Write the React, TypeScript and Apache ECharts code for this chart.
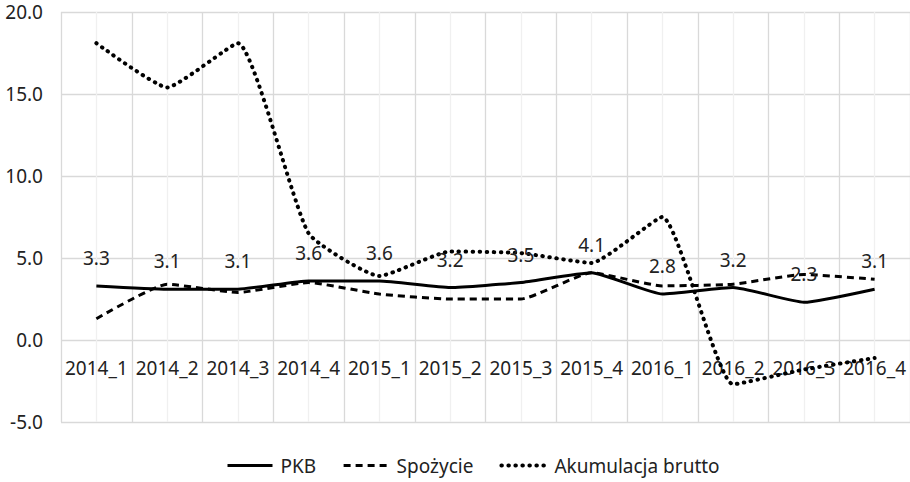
import React, { useEffect, useRef } from "react";
import * as echarts from "echarts";

const categories = [
  "2014_1", "2014_2", "2014_3", "2014_4",
  "2015_1", "2015_2", "2015_3", "2015_4",
  "2016_1", "2016_2", "2016_3", "2016_4",
];
const pkb = [3.3, 3.1, 3.1, 3.6, 3.6, 3.2, 3.5, 4.1, 2.8, 3.2, 2.3, 3.1];
const spozycie = [1.3, 3.4, 2.9, 3.5, 2.8, 2.5, 2.5, 4.1, 3.3, 3.4, 4.0, 3.7];
const akumulacja = [18.1, 15.4, 18.1, 6.5, 3.9, 5.4, 5.3, 4.7, 7.5, -2.7, -1.8, -1.1];
const seriesNames = ["PKB", "Spożycie", "Akumulacja brutto"];
const yMin = -5;
const yMax = 20;
const yStep = 5;

const FONT = "Noto Sans";
const TEXT = "#222222";

const solidStyle = { color: "#000000", width: 3, type: "solid" as const };
const dashStyle = { color: "#000000", width: 3, type: [7, 5] };
const dotStyle = { color: "#000000", width: 4, type: [0.5, 6.5], cap: "round" as const };

export default function App() {
  const ref = useRef<HTMLDivElement>(null);
  useEffect(() => {
    if (!ref.current) return;
    const chart = echarts.init(ref.current, undefined, { renderer: "svg" });
    const n = categories.length;
    const gridTop = 12;
    const gridHeight = 410;
    const zeroOffset = -(gridHeight * (0 - yMin)) / (yMax - yMin);
    const styles = [solidStyle, dashStyle, dotStyle];
    chart.setOption({
      animation: false,
      backgroundColor: "#ffffff",
      textStyle: { fontFamily: FONT },
      grid: { left: 61, top: gridTop, right: -9, height: gridHeight, containLabel: false },
      legend: {
        bottom: 2,
        left: 221,
        itemWidth: 45,
        itemHeight: 10,
        itemGap: 26,
        textStyle: { fontFamily: FONT, fontSize: 19, color: TEXT, padding: [0, 0, 0, 3] },
        data: seriesNames.map((name, i) => ({
          name,
          itemStyle: { opacity: 0 },
          lineStyle: { ...styles[i] },
        })),
      },
      xAxis: [
        {
          type: "category",
          data: categories,
          boundaryGap: true,
          position: "bottom",
          offset: zeroOffset,
          axisLine: { show: false, onZero: false },
          axisTick: { show: false },
          splitLine: { show: false },
          axisLabel: {
            interval: 0,
            margin: 18,
            fontFamily: FONT,
            fontSize: 19,
            color: TEXT,
          },
        },
        {
          type: "value",
          min: 0,
          max: n * 2,
          interval: 1,
          position: "top",
          axisLine: { show: false, onZero: false },
          axisTick: { show: false },
          axisLabel: { show: false },
          splitLine: { show: true, lineStyle: { color: ["#d9d9d9", "#f0f0f0"], width: 1.3 } },
        },
      ],
      yAxis: {
        type: "value",
        min: yMin,
        max: yMax,
        interval: yStep,
        axisLine: { show: false, onZero: false },
        axisTick: { show: false },
        splitLine: { show: true, lineStyle: { color: "#d9d9d9", width: 1.3 } },
        axisLabel: {
          margin: 18,
          fontFamily: FONT,
          fontSize: 19,
          color: TEXT,
          formatter: (v: number) => v.toFixed(1),
        },
      },
      series: [
        {
          name: seriesNames[0],
          type: "line",
          xAxisIndex: 0,
          data: pkb,
          smooth: 0.15,
          symbol: "circle",
          symbolSize: 1,
          itemStyle: { color: "rgba(0,0,0,0)" },
          lineStyle: solidStyle,
          label: {
            show: true,
            position: "top",
            distance: 18,
            fontFamily: FONT,
            fontSize: 19,
            color: TEXT,
            formatter: (p: any) => Number(p.value).toFixed(1),
          },
          z: 3,
        },
        {
          name: seriesNames[1],
          type: "line",
          xAxisIndex: 0,
          data: spozycie,
          smooth: 0.15,
          symbol: "circle",
          symbolSize: 1,
          itemStyle: { color: "rgba(0,0,0,0)" },
          lineStyle: dashStyle,
          z: 2,
        },
        {
          name: seriesNames[2],
          type: "line",
          xAxisIndex: 0,
          data: akumulacja,
          smooth: 0.15,
          symbol: "circle",
          symbolSize: 1,
          itemStyle: { color: "rgba(0,0,0,0)" },
          lineStyle: dotStyle,
          z: 2,
        },
      ],
    });
    return () => chart.dispose();
  }, []);
  return (
    <div
      ref={ref}
      style={{ position: "fixed", left: 0, top: 0, width: 910, height: 482 }}
    />
  );
}
